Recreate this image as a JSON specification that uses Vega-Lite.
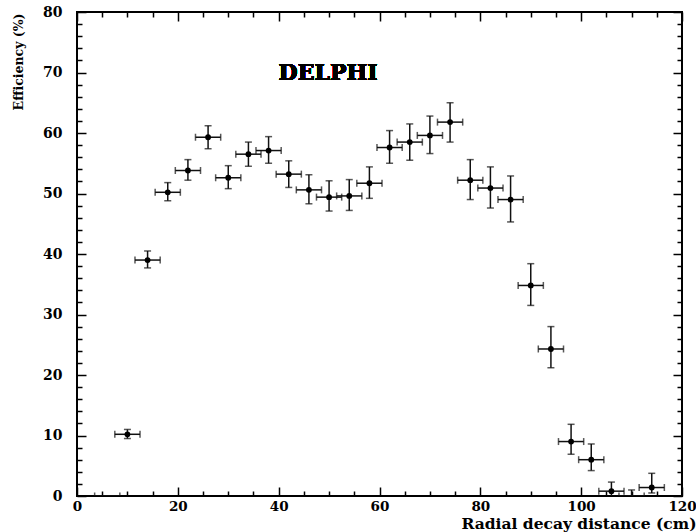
{
  "$schema": "https://vega.github.io/schema/vega-lite/v6.json",
  "width": 605,
  "height": 484,
  "autosize": "none",
  "padding": {"left": 77, "top": 12, "right": 14, "bottom": 36},
  "background": "white",
  "config": {
    "view": {"stroke": "black", "strokeWidth": 2},
    "axis": {"grid": false, "domain": false, "tickColor": "black", "tickWidth": 1.5}
  },
  "data": {
    "values": [
      {"d": 6, "eff": 0, "lo": 0, "hi": 0, "dlo": 3.5, "dhi": 8.5},
      {"d": 10, "eff": 10.2, "lo": 9.5, "hi": 11.0, "dlo": 7.5, "dhi": 12.5},
      {"d": 14, "eff": 39.0, "lo": 37.7, "hi": 40.5, "dlo": 11.5, "dhi": 16.5},
      {"d": 18, "eff": 50.2, "lo": 48.8, "hi": 51.8, "dlo": 15.5, "dhi": 20.5},
      {"d": 22, "eff": 53.8, "lo": 52.2, "hi": 55.6, "dlo": 19.5, "dhi": 24.5},
      {"d": 26, "eff": 59.3, "lo": 57.4, "hi": 61.2, "dlo": 23.5, "dhi": 28.5},
      {"d": 30, "eff": 52.6, "lo": 50.8, "hi": 54.6, "dlo": 27.5, "dhi": 32.5},
      {"d": 34, "eff": 56.5, "lo": 54.5, "hi": 58.5, "dlo": 31.5, "dhi": 36.5},
      {"d": 38, "eff": 57.1, "lo": 55.0, "hi": 59.4, "dlo": 35.5, "dhi": 40.5},
      {"d": 42, "eff": 53.2, "lo": 51.0, "hi": 55.4, "dlo": 39.5, "dhi": 44.5},
      {"d": 46, "eff": 50.6, "lo": 48.3, "hi": 53.1, "dlo": 43.5, "dhi": 48.5},
      {"d": 50, "eff": 49.4, "lo": 47.1, "hi": 52.1, "dlo": 47.5, "dhi": 52.5},
      {"d": 54, "eff": 49.6, "lo": 47.2, "hi": 52.3, "dlo": 51.5, "dhi": 56.5},
      {"d": 58, "eff": 51.7, "lo": 49.2, "hi": 54.4, "dlo": 55.5, "dhi": 60.5},
      {"d": 62, "eff": 57.6, "lo": 55.0, "hi": 60.4, "dlo": 59.5, "dhi": 64.5},
      {"d": 66, "eff": 58.5, "lo": 55.5, "hi": 61.5, "dlo": 63.5, "dhi": 68.5},
      {"d": 70, "eff": 59.6, "lo": 56.6, "hi": 62.8, "dlo": 67.5, "dhi": 72.5},
      {"d": 74, "eff": 61.8, "lo": 58.5, "hi": 65.0, "dlo": 71.5, "dhi": 76.5},
      {"d": 78, "eff": 52.2, "lo": 49.0, "hi": 55.6, "dlo": 75.5, "dhi": 80.5},
      {"d": 82, "eff": 50.9, "lo": 47.6, "hi": 54.4, "dlo": 79.5, "dhi": 84.5},
      {"d": 86, "eff": 49.0, "lo": 45.3, "hi": 52.9, "dlo": 83.5, "dhi": 88.5},
      {"d": 90, "eff": 34.8, "lo": 31.5, "hi": 38.4, "dlo": 87.5, "dhi": 92.5},
      {"d": 94, "eff": 24.3, "lo": 21.2, "hi": 28.0, "dlo": 91.5, "dhi": 96.5},
      {"d": 98, "eff": 9.0, "lo": 6.9, "hi": 11.85, "dlo": 95.5, "dhi": 100.5},
      {"d": 102, "eff": 6.0, "lo": 4.2, "hi": 8.6, "dlo": 99.5, "dhi": 104.5},
      {"d": 106, "eff": 0.8, "lo": -0.6, "hi": 2.3, "dlo": 103.5, "dhi": 108.5},
      {"d": 110, "eff": 0, "lo": 0, "hi": 1.0, "dlo": 107.5, "dhi": 112.5},
      {"d": 114, "eff": 1.4, "lo": 0.5, "hi": 3.75, "dlo": 111.5, "dhi": 116.5}
    ]
  },
  "resolve": {"axis": {"x": "independent", "y": "independent"}},
  "layer": [
    {
      "mark": {"type": "rule", "color": "#111", "strokeWidth": 1.5, "clip": true},
      "encoding": {
        "x": {
          "field": "d", "type": "quantitative",
          "scale": {"domain": [0, 120], "nice": false, "zero": false},
          "axis": {
            "orient": "bottom",
            "values": [0, 20, 40, 60, 80, 100, 120],
            "ticks": false, "tickSize": 0,
            "labelFont": "DejaVu Serif", "labelFontWeight": "bold", "labelFontSize": 13.5,
            "labelColor": "black", "labelPadding": 3, "labelFlush": false, "labelOverlap": false,
            "title": "Radial decay distance (cm)",
            "titleFont": "DejaVu Serif", "titleFontWeight": "bold", "titleFontSize": 15.5,
            "titleColor": "black", "titleAnchor": "end", "titleAlign": "right",
            "titleX": 619, "titleY": 32, "titleBaseline": "alphabetic"
          }
        },
        "y": {
          "field": "lo", "type": "quantitative",
          "scale": {"domain": [0, 80], "nice": false, "zero": false},
          "axis": {
            "orient": "left",
            "values": [0, 10, 20, 30, 40, 50, 60, 70, 80],
            "ticks": false, "tickSize": 0,
            "labelFont": "DejaVu Serif", "labelFontWeight": "bold", "labelFontSize": 14,
            "labelColor": "black", "labelPadding": 15, "labelFlush": false, "labelOverlap": false,
            "title": "Efficiency (%)",
            "titleFont": "DejaVu Serif", "titleFontWeight": "bold", "titleFontSize": 12.5,
            "titleColor": "black", "titleAngle": -90, "titleAnchor": "end", "titleAlign": "right",
            "titleBaseline": "middle", "titleX": -59, "titleY": 1
          }
        },
        "y2": {"field": "hi"}
      }
    },
    {
      "mark": {"type": "rule", "color": "#111", "strokeWidth": 1.5, "clip": true},
      "encoding": {
        "x": {
          "field": "dlo", "type": "quantitative",
          "axis": {"orient": "top", "offset": -484, "values": [0, 20, 40, 60, 80, 100, 120], "tickSize": 9, "labels": false, "title": null}
        },
        "x2": {"field": "dhi"},
        "y": {
          "field": "eff", "type": "quantitative",
          "axis": {"orient": "right", "offset": -605, "values": [0, 10, 20, 30, 40, 50, 60, 70, 80], "tickSize": 9, "labels": false, "title": null}
        }
      }
    },
    {
      "mark": {"type": "tick", "orient": "horizontal", "color": "#111", "size": 7, "thickness": 1.5, "clip": true},
      "encoding": {
        "x": {
          "field": "d", "type": "quantitative",
          "axis": {"orient": "top", "offset": -484, "values": [5,10,15,25,30,35,45,50,55,65,70,75,85,90,95,105,110,115], "tickSize": 5, "labels": false, "title": null}
        },
        "y": {
          "field": "hi", "type": "quantitative",
          "axis": {"orient": "right", "offset": -605, "values": [2,4,6,8,12,14,16,18,22,24,26,28,32,34,36,38,42,44,46,48,52,54,56,58,62,64,66,68,72,74,76,78], "tickSize": 5, "labels": false, "title": null}
        }
      }
    },
    {
      "mark": {"type": "tick", "orient": "horizontal", "color": "#111", "size": 7, "thickness": 1.5, "clip": true},
      "encoding": {
        "x": {
          "field": "d", "type": "quantitative",
          "axis": {"orient": "bottom", "offset": -484, "values": [0, 20, 40, 60, 80, 100, 120], "tickSize": 9, "labels": false, "title": null}
        },
        "y": {
          "field": "lo", "type": "quantitative",
          "axis": {"orient": "left", "offset": -605, "values": [0, 10, 20, 30, 40, 50, 60, 70, 80], "tickSize": 9, "labels": false, "title": null}
        }
      }
    },
    {
      "mark": {"type": "tick", "orient": "vertical", "color": "#111", "size": 7, "thickness": 1.5, "clip": true},
      "encoding": {
        "x": {
          "field": "dlo", "type": "quantitative",
          "axis": {"orient": "bottom", "offset": -484, "values": [5,10,15,25,30,35,45,50,55,65,70,75,85,90,95,105,110,115], "tickSize": 5, "labels": false, "title": null}
        },
        "y": {
          "field": "eff", "type": "quantitative",
          "axis": {"orient": "left", "offset": -605, "values": [2,4,6,8,12,14,16,18,22,24,26,28,32,34,36,38,42,44,46,48,52,54,56,58,62,64,66,68,72,74,76,78], "tickSize": 5, "labels": false, "title": null}
        }
      }
    },
    {
      "mark": {"type": "tick", "orient": "vertical", "color": "#111", "size": 7, "thickness": 1.5, "clip": true},
      "encoding": {
        "x": {"field": "dhi", "type": "quantitative", "axis": null},
        "y": {"field": "eff", "type": "quantitative", "axis": null}
      }
    },
    {
      "transform": [{"filter": "datum.eff > 0"}],
      "mark": {"type": "circle", "color": "black", "size": 34, "opacity": 1},
      "encoding": {
        "x": {"field": "d", "type": "quantitative", "axis": null},
        "y": {"field": "eff", "type": "quantitative", "axis": null}
      }
    },
    {
      "mark": {"type": "text", "text": "DELPHI", "font": "DejaVu Serif", "fontWeight": "bold", "fontSize": 22, "color": "black", "align": "center", "baseline": "middle"},
      "encoding": {
        "x": {"datum": 49.8, "type": "quantitative", "axis": null},
        "y": {"datum": 70, "type": "quantitative", "axis": null}
      }
    }
  ]
}
